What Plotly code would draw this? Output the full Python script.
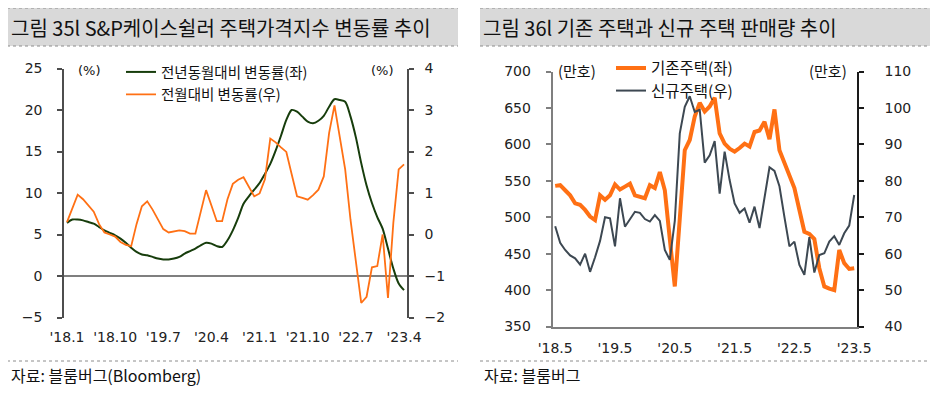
import plotly.graph_objects as go

W, H = 938, 397
OFF = 8  # page body margin offset compensation

# ---------------- Data: left chart (S&P Case-Shiller) ----------------
months_left = list(range(64))  # 2018-01 .. 2023-04
yoy = [6.4, 6.8, 6.8, 6.7, 6.5, 6.3, 5.9, 5.5, 5.2, 4.9,
       4.5, 4.0, 3.4, 2.9, 2.6, 2.5, 2.3, 2.1, 2.0, 2.0,
       2.1, 2.3, 2.7, 3.0, 3.3, 3.7, 4.0, 3.9, 3.6, 3.5,
       4.3, 5.5, 7.0, 8.7, 9.6, 10.4, 11.2, 12.3, 13.5, 15.1,
       16.9, 18.8, 20.0, 19.8, 19.2, 18.6, 18.4, 18.7, 19.3, 20.4,
       21.3, 21.2, 21.0, 19.2, 16.7, 13.6, 10.9, 8.8, 7.1, 5.7,
       3.3, 0.9, -0.9, -1.7]
mom = [0.30, 0.65, 0.96, 0.85, 0.70, 0.55, 0.25, 0.05, 0.00, -0.05,
       -0.18, -0.25, -0.28, 0.25, 0.68, 0.80, 0.60, 0.35, 0.13, 0.05,
       0.07, 0.10, 0.08, 0.02, 0.02, 0.55, 1.07, 0.70, 0.32, 0.32,
       0.85, 1.22, 1.32, 1.38, 1.15, 0.92, 0.99, 1.33, 2.31, 2.22,
       2.10, 1.99, 1.45, 0.92, 0.88, 0.84, 0.95, 1.08, 1.40, 2.45,
       3.11, 2.35, 1.57, 0.35, -0.65, -1.65, -1.50, -0.79, -0.76, 0.00,
       -1.53, 0.28, 1.57, 1.69]
left_tickvals = [0, 9, 18, 27, 36, 45, 54, 63]
left_ticktext = ["'18.1", "'18.10", "'19.7", "'20.4", "'21.1", "'21.10", "'22.7", "'23.4"]

# ---------------- Data: right chart (home sales) ----------------
months_right = list(range(61))  # 2018-05 .. 2023-05
existing = [543, 544, 537, 530, 519, 517, 510, 501, 496, 530,
            524, 530, 545, 538, 542, 546, 530, 528, 526, 544,
            540, 562, 537, 470, 405, 498, 592, 606, 638, 657,
            645, 652, 664, 615, 601, 594, 590, 595, 601, 597,
            617, 619, 631, 607, 648, 592, 575, 558, 540, 510,
            480, 477, 470, 430, 405, 402, 400, 455, 437, 429,
            430]
new_homes = [67.5, 63.0, 61.0, 59.5, 58.7, 57.0, 60.0, 55.0, 59.0, 63.5,
             70.0, 69.7, 62.0, 75.2, 67.4, 69.4, 71.5, 71.2, 69.5, 68.8,
             70.6, 69.0, 61.0, 58.3, 69.0, 93.0, 100.3, 103.2, 98.9, 99.5,
             85.0, 87.0, 90.9, 76.5, 88.0, 80.2, 73.8, 71.2, 72.4, 68.5,
             72.9, 67.0, 76.0, 83.7, 82.7, 78.5, 70.0, 62.0, 63.3, 56.9,
             54.2, 64.5, 54.8, 59.6, 60.1, 63.3, 64.8, 62.4, 65.6, 67.7,
             76.1]
right_tickvals = [0, 12, 24, 36, 48, 60]
right_ticktext = ["'18.5", "'19.5", "'20.5", "'21.5", "'22.5", "'23.5"]


def px(x):
    return (x - OFF) / W


def py(y):
    return 1 - (y - OFF) / H


TICKFONT = dict(family="DejaVu Sans", size=14, color="#222222")
KFONT = "Noto Sans CJK KR"

GREEN = "#173d0c"
ORANGE = "#ff7014"
GRAY = "#3d4852"

fig = go.Figure()

fig.add_trace(go.Scatter(x=months_left, y=yoy, mode="lines", name="전년동월대비 변동률(좌)",
                         line=dict(color=GREEN, width=2, shape="spline", smoothing=0.8),
                         xaxis="x", yaxis="y", legend="legend"))
fig.add_trace(go.Scatter(x=months_left, y=mom, mode="lines", name="전월대비 변동률(우)",
                         line=dict(color=ORANGE, width=1.8),
                         xaxis="x", yaxis="y2", legend="legend2"))
fig.add_trace(go.Scatter(x=months_right, y=existing, mode="lines", name="기존주택(좌)",
                         line=dict(color=ORANGE, width=4),
                         xaxis="x2", yaxis="y3", legend="legend3"))
fig.add_trace(go.Scatter(x=months_right, y=new_homes, mode="lines", name="신규주택(우)",
                         line=dict(color=GRAY, width=2),
                         xaxis="x2", yaxis="y4", legend="legend4"))

ldom_x = [px(64.3), px(406.7)]
ldom_y = [py(317.5), py(68.5)]
rdom_x = [px(552.7), px(856.7)]
rdom_y = [py(326.5), py(71.5)]


def leg(x, y, size):
    return dict(x=px(x), y=py(y), bgcolor="rgba(0,0,0,0)", borderwidth=0,
                xanchor="left", yanchor="middle",
                font=dict(family=KFONT, size=size, color="#111111"))


fig.update_layout(
    width=W, height=H, margin=dict(l=0, r=0, t=0, b=0, autoexpand=False),
    paper_bgcolor="white", plot_bgcolor="white",
    xaxis=dict(domain=ldom_x, range=[-0.5, 63.5], tickvals=left_tickvals, ticktext=left_ticktext,
               showgrid=False, zeroline=False, showline=False, ticks="", tickfont=TICKFONT,
               anchor="y", ticklabelstandoff=9, automargin=False),
    yaxis=dict(domain=ldom_y, range=[-5, 25], dtick=5, showgrid=False,
               zeroline=True, zerolinecolor="#7f7f7f", zerolinewidth=2,
               showline=True, linecolor="#4d4d4d", linewidth=2, ticks="outside",
               ticklen=5, tickcolor="#4d4d4d", tickwidth=1.5, tickfont=TICKFONT,
               anchor="x", ticklabelstandoff=12, automargin=False),
    yaxis2=dict(domain=ldom_y, range=[-2, 4], dtick=1, overlaying="y", side="right",
                showgrid=False, zeroline=False, showline=True, linecolor="#4d4d4d", linewidth=2,
                ticks="outside", ticklen=5, tickcolor="#4d4d4d", tickwidth=1.5, tickfont=TICKFONT,
                anchor="x", ticklabelstandoff=8, tickformat="d", automargin=False),
    xaxis2=dict(domain=rdom_x, range=[-0.5, 60.5], tickvals=right_tickvals, ticktext=right_ticktext,
                showgrid=False, zeroline=False, showline=True, linecolor="#7f7f7f", linewidth=2,
                ticks="", tickfont=TICKFONT, anchor="y3", ticklabelstandoff=8, automargin=False),
    yaxis3=dict(domain=rdom_y, range=[350, 700], dtick=50, showgrid=False, zeroline=False,
                showline=True, linecolor="#7f7f7f", linewidth=2, ticks="outside", ticklen=5,
                tickcolor="#7f7f7f", tickwidth=1.5, tickfont=TICKFONT, anchor="x2",
                ticklabelstandoff=12, automargin=False),
    yaxis4=dict(domain=rdom_y, range=[40, 110], dtick=10, overlaying="y3", side="right",
                showgrid=False, zeroline=False, showline=True, linecolor="#1a1a1a", linewidth=2,
                ticks="outside", ticklen=5, tickcolor="#1a1a1a", tickwidth=1.5, tickfont=TICKFONT,
                anchor="x2", ticklabelstandoff=18, automargin=False),
    legend=leg(121, 72, 14.5),
    legend2=leg(121, 94.5, 14.5),
    legend3=leg(611, 68.5, 15.5),
    legend4=leg(611, 91, 15.5),
    showlegend=True,
)

# title bars and source lines (decoration)
shapes = []
for x0, x1 in [(7, 458), (480, 933)]:
    shapes.append(dict(type="rect", xref="paper", yref="paper", x0=px(x0), x1=px(x1),
                       y0=py(46), y1=py(8), fillcolor="#d9d9d9", line=dict(width=0), layer="below"))
    for yy in (8, 46):
        shapes.append(dict(type="line", xref="paper", yref="paper", x0=px(x0), x1=px(x1),
                           y0=py(yy), y1=py(yy), line=dict(color="#8c8c8c", width=1, dash="dot")))
    shapes.append(dict(type="line", xref="paper", yref="paper", x0=px(x0), x1=px(x1),
                       y0=py(361), y1=py(361), line=dict(color="#8c8c8c", width=1, dash="dot")))
fig.update_layout(shapes=shapes)

ann = []


def add_text(text, x, y, size, family=KFONT, xanchor="left"):
    ann.append(dict(text=text, x=px(x), y=py(y), xref="paper", yref="paper",
                    xanchor=xanchor, yanchor="middle", showarrow=False,
                    font=dict(family=family, size=size, color="#111111")))


add_text("그림 35l S&P케이스쉴러 주택가격지수 변동률 추이", 9, 27.5, 20)
add_text("그림 36l 기존 주택과 신규 주택 판매량 추이", 481, 27.5, 20)
add_text("자료: 블룸버그(Bloomberg)", 9, 375, 16)
add_text("자료: 블룸버그", 482, 375, 16)
add_text("(%)", 89, 70, 13, family="DejaVu Sans", xanchor="center")
add_text("(%)", 382, 70, 13, family="DejaVu Sans", xanchor="center")
add_text("(만호)", 577, 70, 15, xanchor="center")
add_text("(만호)", 828, 70, 15, xanchor="center")
fig.update_layout(annotations=ann)

fig.write_html("out.html")
